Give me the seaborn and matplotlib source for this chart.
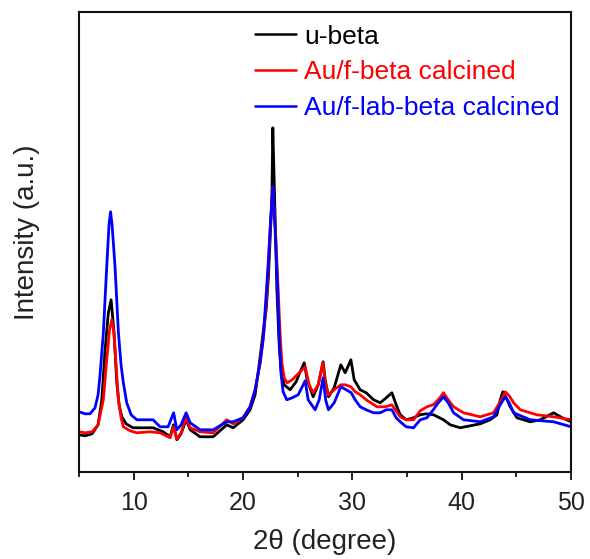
import numpy as np
import pandas as pd
import matplotlib
matplotlib.use("Agg")
import matplotlib.pyplot as plt
from matplotlib.ticker import MultipleLocator
import seaborn as sns

# XRD patterns (2-theta in degrees, intensity in arbitrary units)
ubeta_2theta = [5.00, 5.55, 6.19, 6.74, 7.08, 7.38, 7.68, 7.93, 8.20, 8.45, 8.66, 8.91, 9.30, 9.94,
                10.86, 11.77, 12.69, 13.33, 13.63, 13.94, 14.33, 14.79, 15.16, 16.07, 17.26, 18.51,
                19.09, 20.00, 20.64, 21.10, 21.47, 21.83, 22.11, 22.32, 22.47, 22.63, 22.72, 22.84,
                22.96, 23.09, 23.30, 23.48, 23.76, 24.30, 24.85, 25.22, 25.59, 25.86, 26.41, 26.87,
                27.32, 27.51, 27.81, 28.33, 28.94, 29.34, 29.86, 30.16, 30.71, 31.26, 31.93, 32.54,
                33.09, 33.61, 34.00, 34.37, 34.92, 35.59, 36.20, 36.75, 37.42, 38.33, 38.94, 39.86,
                40.77, 41.69, 42.60, 43.22, 43.52, 43.76, 44.07, 44.43, 45.05, 46.26, 47.18, 48.40,
                49.19, 50.00]
ubeta_int = [37, 36, 38, 47, 72, 122, 159, 172, 139, 89, 67, 55, 48, 44,
             44, 44, 40, 35, 47, 32, 38, 52, 42, 35, 35, 47,
             44, 52, 62, 77, 107, 139, 162, 195, 232, 272, 344, 292,
             242, 182, 127, 100, 87, 82, 90, 100, 109, 92, 75, 87,
             110, 92, 75, 84, 107, 99, 112, 92, 82, 79, 72, 69,
             74, 79, 67, 57, 52, 54, 57, 58, 57, 52, 47, 44,
             46, 48, 52, 57, 72, 80, 74, 65, 54, 50, 52, 59,
             54, 50]

fbeta_2theta = [5.00, 5.55, 6.19, 6.74, 7.22, 7.53, 7.79, 7.99, 8.16, 8.29, 8.60, 8.84, 9.05, 9.67,
                10.28, 11.50, 12.41, 13.33, 13.63, 13.94, 14.33, 14.79, 15.16, 16.07, 17.26, 18.51,
                19.09, 20.00, 20.64, 21.10, 21.56, 21.93, 22.20, 22.43, 22.72, 22.96, 23.21, 23.39,
                23.55, 23.76, 24.03, 24.49, 25.04, 25.68, 26.04, 26.41, 26.87, 27.30, 27.51, 27.81,
                28.33, 28.94, 29.34, 29.86, 30.25, 30.71, 31.26, 32.24, 33.00, 33.61, 34.37, 34.92,
                35.59, 36.20, 36.81, 37.39, 37.85, 38.33, 38.76, 39.25, 40.16, 41.69, 42.90, 43.52,
                43.97, 44.34, 44.74, 45.35, 46.87, 48.40, 50.00]
fbeta_int = [40, 39, 40, 47, 72, 112, 142, 152, 142, 122, 72, 54, 45, 41,
             39, 40, 39, 34, 45, 33, 39, 55, 44, 40, 39, 52,
             48, 54, 65, 82, 109, 142, 182, 232, 285, 242, 182, 137,
             109, 94, 89, 92, 98, 105, 87, 79, 87, 109, 89, 77,
             82, 87, 87, 85, 80, 77, 72, 65, 65, 67, 55, 52,
             52, 61, 65, 67, 72, 79, 72, 65, 59, 55, 59, 70,
             80, 76, 69, 62, 57, 55, 52]

flab_2theta = [5.00, 5.55, 6.01, 6.46, 6.74, 6.92, 7.22, 7.53, 7.74, 7.88, 8.02, 8.29, 8.60, 8.84,
               9.05, 9.36, 9.76, 10.28, 11.04, 11.77, 12.41, 13.14, 13.65, 13.94, 14.33, 14.79,
               15.16, 16.07, 17.26, 18.51, 19.09, 20.00, 20.64, 21.10, 21.56, 21.83, 22.08, 22.32,
               22.52, 22.72, 22.93, 23.16, 23.33, 23.48, 23.66, 24.00, 24.49, 25.04, 25.68, 25.95,
               26.59, 26.96, 27.32, 27.55, 27.81, 28.33, 28.94, 29.43, 29.89, 30.25, 30.71, 31.26,
               31.93, 32.54, 33.09, 33.61, 34.00, 34.37, 34.92, 35.59, 36.20, 36.81, 37.39, 37.85,
               38.33, 38.76, 39.25, 40.16, 41.69, 42.90, 43.52, 43.97, 44.34, 44.74, 46.26, 48.40,
               50.00]
flab_int = [60, 58, 58, 64, 77, 97, 139, 205, 247, 260, 247, 205, 139, 107,
            89, 69, 57, 52, 52, 52, 45, 45, 59, 42, 47, 59,
            49, 42, 42, 50, 50, 54, 65, 82, 109, 132, 172, 212,
            252, 285, 242, 182, 129, 97, 80, 72, 74, 77, 91, 72,
            62, 72, 94, 72, 62, 69, 85, 82, 79, 72, 65, 62,
            59, 59, 62, 62, 54, 50, 45, 44, 52, 54, 62, 69,
            75, 69, 59, 52, 50, 55, 67, 75, 69, 59, 52, 50,
            45]

labels = ["u-beta", "Au/f-beta calcined", "Au/f-lab-beta calcined"]
colors = ["#000000", "#ff0000", "#0000ff"]

frames = []
for lab, xs, ys in zip(labels,
                       [ubeta_2theta, fbeta_2theta, flab_2theta],
                       [ubeta_int, fbeta_int, flab_int]):
    frames.append(pd.DataFrame({"2theta": xs, "intensity": ys, "sample": lab}))
df = pd.concat(frames, ignore_index=True)

sns.set_style("ticks")
plt.rcParams["font.family"] = ["Liberation Sans", "DejaVu Sans"]

fig = plt.figure(figsize=(5.90, 5.59), dpi=100)
ax = fig.add_axes([0.134, 0.156, 0.834, 0.823])

sns.lineplot(data=df, x="2theta", y="intensity", hue="sample", hue_order=labels,
             palette=colors, sort=False, linewidth=2.0, estimator=None, ax=ax)

ax.set_xlim(5, 50)
ax.set_ylim(0, 460)
ax.xaxis.set_major_locator(MultipleLocator(10))
ax.xaxis.set_minor_locator(MultipleLocator(5))
ax.set_yticks([])
ax.tick_params(axis="x", which="major", direction="out", length=6, width=1.4,
               labelsize=18, colors="#222222", pad=8)
ax.tick_params(axis="x", which="minor", direction="out", length=3.5, width=1.4)
for sp in ax.spines.values():
    sp.set_visible(True)
    sp.set_linewidth(1.5)
    sp.set_color("#111111")

ax.set_xlabel("2\u03b8 (degree)", fontsize=20, color="#222222", labelpad=10)
ax.set_ylabel("Intensity (a.u.)", fontsize=20, color="#222222")
ax.yaxis.set_label_coords(-0.08, 0.52)

leg = ax.legend(loc="upper left", bbox_to_anchor=(0.336, 0.995), frameon=False,
                fontsize=19, handlelength=1.55, handletextpad=0.3,
                labelspacing=0.45, borderaxespad=0.0)
for txt, c in zip(leg.get_texts(), colors):
    txt.set_color(c)
for line in leg.get_lines():
    line.set_linewidth(1.8)

fig.savefig("out.png", dpi=100)
